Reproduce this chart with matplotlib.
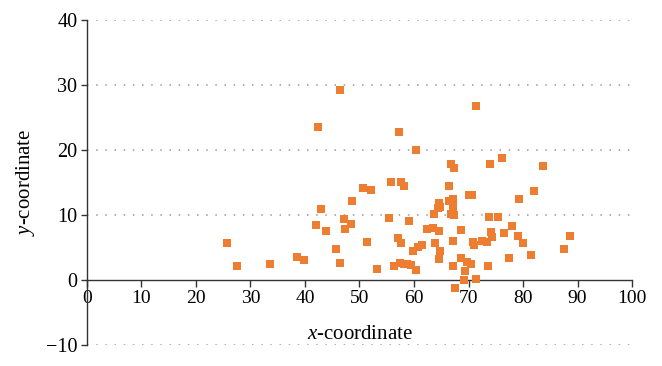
import matplotlib.pyplot as plt

# scatter values
x_vals = [46.4, 42.3, 57.3, 60.4, 71.3, 66.8, 67.3, 73.9, 76.2, 83.7,
          55.7, 57.6, 58.2, 50.7, 52.2, 66.5, 70.1, 70.6, 79.3, 82.1,
          48.6, 42.9, 66.5, 67.2, 67.2, 67.1, 66.7, 67.4, 64.5, 64.8,
          64.4, 63.6, 73.8, 75.4, 47.2, 55.4, 59.0, 42.0, 48.4, 47.3,
          43.8, 62.4, 63.4, 64.6, 68.6, 77.9, 74.1, 74.3, 76.6, 79.0,
          88.6, 25.6, 51.3, 57.1, 57.7, 67.1, 63.9, 70.8, 71.0, 72.4,
          73.4, 80.0, 61.5, 60.8, 45.6, 59.8, 64.8, 64.5, 68.6, 69.7,
          70.5, 77.5, 81.5, 87.6, 38.5, 39.9, 27.6, 33.5, 46.4, 53.2,
          56.4, 57.4, 58.2, 58.8, 59.4, 60.4, 67.1, 73.5, 69.3, 69.1,
          71.3, 67.6]
y_vals = [29.2, 23.5, 22.7, 20.0, 26.8, 17.9, 17.3, 17.9, 18.7, 17.5,
          15.1, 15.1, 14.4, 14.1, 13.8, 14.4, 13.0, 13.0, 12.5, 13.7,
          12.2, 10.9, 12.1, 12.5, 11.8, 11.1, 10.2, 10.0, 11.8, 11.3,
          11.0, 10.2, 9.7, 9.7, 9.4, 9.6, 9.1, 8.4, 8.6, 7.8,
          7.5, 7.8, 8.0, 7.5, 7.7, 8.3, 7.4, 6.6, 7.2, 6.8,
          6.7, 5.7, 5.9, 6.4, 5.7, 6.0, 5.7, 5.8, 5.4, 6.0,
          5.8, 5.7, 5.4, 5.0, 4.8, 4.4, 4.5, 3.3, 3.4, 2.8,
          2.4, 3.4, 3.9, 4.8, 3.6, 3.1, 2.2, 2.4, 2.6, 1.7,
          2.1, 2.6, 2.5, 2.4, 2.3, 1.6, 2.1, 2.1, 1.4, 0.0,
          0.2, -1.3]

x_ticks = [0, 10, 20, 30, 40, 50, 60, 70, 80, 90, 100]
y_ticks = [-10, 0, 10, 20, 30, 40]

plt.rcParams['font.family'] = ['Liberation Serif', 'DejaVu Serif']
plt.rcParams['axes.unicode_minus'] = True
plt.rcParams['mathtext.fontset'] = 'custom'
plt.rcParams['mathtext.rm'] = 'Liberation Serif'
plt.rcParams['mathtext.it'] = 'Liberation Serif:italic'

fig = plt.figure(figsize=(6.62, 3.66), dpi=100)
ax = fig.add_axes([0.1314, 0.0574, 0.8233, 0.888])

# dotted horizontal gridlines
for yv in y_ticks:
    if yv != 0:
        ax.axhline(yv, color='#9a9a9a', linestyle=(0, (1, 5)), linewidth=1.1, zorder=0)

ax.scatter(x_vals, y_vals, marker='s', s=30, color='#ED7D31', linewidths=0, zorder=3)

ax.set_xlim(0, 100)
ax.set_ylim(-10, 40)
ax.set_xticks(x_ticks)
ax.set_yticks(y_ticks)

ax.spines['top'].set_visible(False)
ax.spines['right'].set_visible(False)
ax.spines['bottom'].set_position(('data', 0))
for s in ['left', 'bottom']:
    ax.spines[s].set_color('#333333')
    ax.spines[s].set_linewidth(1.0)

ax.tick_params(axis='x', direction='out', length=5, width=1, color='#333333',
               labelsize=14, pad=2)
ax.tick_params(axis='y', direction='out', length=4, width=1, color='#333333',
               labelsize=14.5, pad=3)

ax.set_xlabel(r'$\it{x}$-coordinate', fontsize=15)
ax.xaxis.set_label_coords(0.5, 0.062)
ax.set_ylabel(r'$\it{y}$-coordinate', fontsize=15)
ax.yaxis.set_label_coords(-0.092, 0.5)

fig.savefig('out.png', dpi=100)
